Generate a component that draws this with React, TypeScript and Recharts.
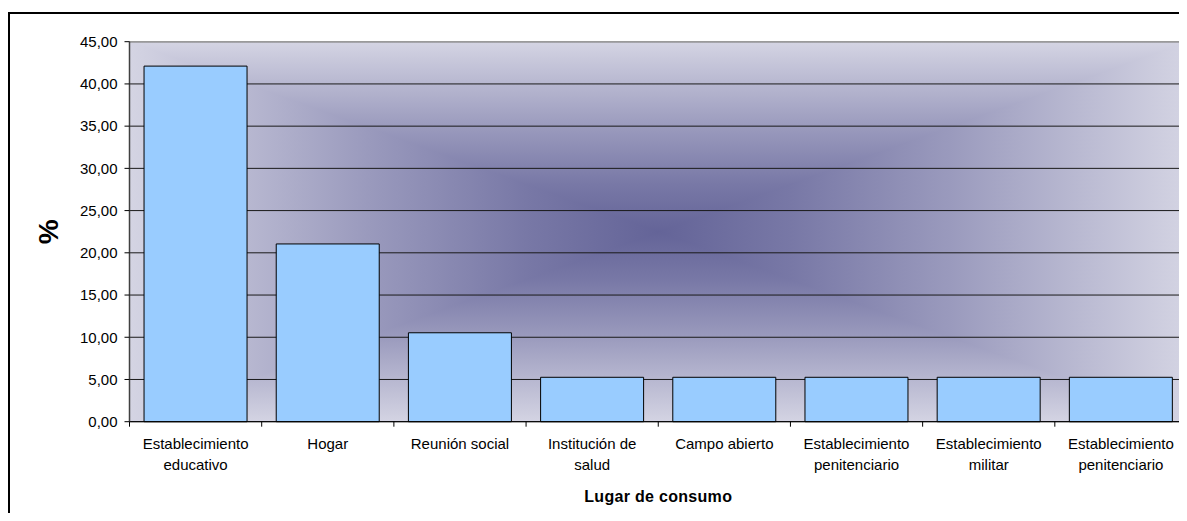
import { BarChart, Bar, XAxis, YAxis, CartesianGrid, ReferenceLine } from 'recharts'

const CATEGORIES = [
  'Establecimiento\neducativo',
  'Hogar',
  'Reunión social',
  'Institución de\nsalud',
  'Campo abierto',
  'Establecimiento\npenitenciario',
  'Establecimiento\nmilitar',
  'Establecimiento\npenitenciario',
]
const PERCENTS = [42.11, 21.05, 10.53, 5.26, 5.26, 5.26, 5.26, 5.26]
const Y_TICKS = [0, 5, 10, 15, 20, 25, 30, 35, 40, 45]

const data = CATEGORIES.map((c, i) => ({ name: c, value: PERCENTS[i] }))

const W = 1179
const H = 513
const Y_AXIS_W = 121.5
const TOP = 33.7
const X_AXIS_H = 90
const BOTTOM = 9.3
const PLOT_W = W - Y_AXIS_W
const PLOT_H = H - TOP - X_AXIS_H - BOTTOM

const FONT = 'Arial, "Liberation Sans", sans-serif'
const GRAD_STOPS = [
  { o: '0%', c: '#D4D4E3' },
  { o: '45%', c: '#9A9ABD' },
  { o: '75%', c: '#7878A6' },
  { o: '100%', c: '#646498' },
]

const fmt = (v: number) => v.toFixed(2).replace('.', ',')

const CategoryTick = (props: any) => {
  const { x, y, payload } = props
  const lines = String(payload.value).split('\n')
  const half = payload.offset || PLOT_W / CATEGORIES.length / 2
  const axisY = y - 7
  return (
    <g>
      <line x1={x - half} x2={x - half} y1={axisY} y2={axisY + 5} stroke="#000" />
      <text x={x} y={y + 20.6} textAnchor="middle" fontSize={15} fill="#000" fontFamily={FONT}>
        {lines.map((l, i) => (
          <tspan key={i} x={x} dy={i === 0 ? 0 : 21}>{l}</tspan>
        ))}
      </text>
    </g>
  )
}

// Excel-style "from center" rectangular gradient, built from 4 triangles
function PlotBackground() {
  const w = PLOT_W
  const h = PLOT_H
  const cx = w / 2
  const cy = h / 2
  const tris = [
    { id: 'gt', pts: `0,0 ${w},0 ${cx},${cy}`, g: { x1: 0, y1: 0, x2: 0, y2: cy } },
    { id: 'gb', pts: `0,${h} ${w},${h} ${cx},${cy}`, g: { x1: 0, y1: h, x2: 0, y2: cy } },
    { id: 'gl', pts: `0,0 0,${h} ${cx},${cy}`, g: { x1: 0, y1: 0, x2: cx, y2: 0 } },
    { id: 'gr', pts: `${w},0 ${w},${h} ${cx},${cy}`, g: { x1: w, y1: 0, x2: cx, y2: 0 } },
  ]
  return (
    <svg width={w} height={h} style={{ position: 'absolute', left: Y_AXIS_W, top: TOP }}>
      <defs>
        {tris.map(t => (
          <linearGradient key={t.id} id={t.id} gradientUnits="userSpaceOnUse" {...t.g}>
            {GRAD_STOPS.map(s => <stop key={s.o} offset={s.o} stopColor={s.c} />)}
          </linearGradient>
        ))}
      </defs>
      {tris.map(t => (
        <polygon key={t.id} points={t.pts} fill={`url(#${t.id})`} stroke={`url(#${t.id})`} strokeWidth={1.6} strokeLinejoin="round" />
      ))}
    </svg>
  )
}

export default function App() {
  return (
    <div style={{ position: 'relative', width: W, height: H, marginBottom: -8, overflow: 'hidden', fontFamily: FONT }}>
      <div style={{ position: 'absolute', left: 0, top: 4, width: W, height: 2, background: '#000' }} />
      <div style={{ position: 'absolute', left: 0, top: 4, width: 2, height: H, background: '#000' }} />
      <PlotBackground />
      <div style={{ position: 'absolute', left: 0, top: 0 }}>
        <BarChart
          width={W}
          height={H}
          data={data}
          margin={{ top: TOP, right: 0, bottom: BOTTOM, left: 0 }}
          barCategoryGap="11%"
        >
          <CartesianGrid vertical={false} stroke="#1a1a1a" strokeWidth={1} />
          <ReferenceLine y={45} stroke="#9a9a9a" strokeWidth={1.5} />
          <XAxis
            dataKey="name"
            interval={0}
            height={X_AXIS_H}
            tickLine={false}
            tickSize={5}
            tickMargin={2}
            axisLine={{ stroke: '#000', strokeWidth: 1 }}
            tick={<CategoryTick />}
            label={{
              value: 'Lugar de consumo',
              position: 'insideBottom',
              offset: 10,
              style: { fontSize: 16, fontWeight: 'bold', fill: '#000', fontFamily: FONT, letterSpacing: 0.3 },
            }}
          />
          <YAxis
            width={Y_AXIS_W}
            domain={[0, 45]}
            ticks={Y_TICKS}
            interval={0}
            tickFormatter={fmt}
            tickSize={5}
            tickMargin={7}
            tickLine={{ stroke: '#000' }}
            axisLine={{ stroke: '#404040', strokeWidth: 1.5 }}
            tick={{ fontSize: 15, fill: '#000', fontFamily: FONT }}
            label={{
              content: (p: any) => {
                const vb = p.viewBox || { x: 0, y: TOP, width: Y_AXIS_W, height: PLOT_H }
                const lx = 41
                const ly = vb.y + vb.height / 2
                return (
                  <text
                    x={lx}
                    y={ly}
                    transform={`rotate(-90 ${lx} ${ly})`}
                    textAnchor="middle"
                    dominantBaseline="central"
                    fontSize={28}
                    fontWeight="bold"
                    fill="#000"
                    fontFamily={FONT}
                  >
                    %
                  </text>
                )
              },
            }}
          />
          <Bar dataKey="value" fill="#99CCFF" stroke="#000" strokeWidth={1} isAnimationActive={false} />
        </BarChart>
      </div>
    </div>
  )
}
